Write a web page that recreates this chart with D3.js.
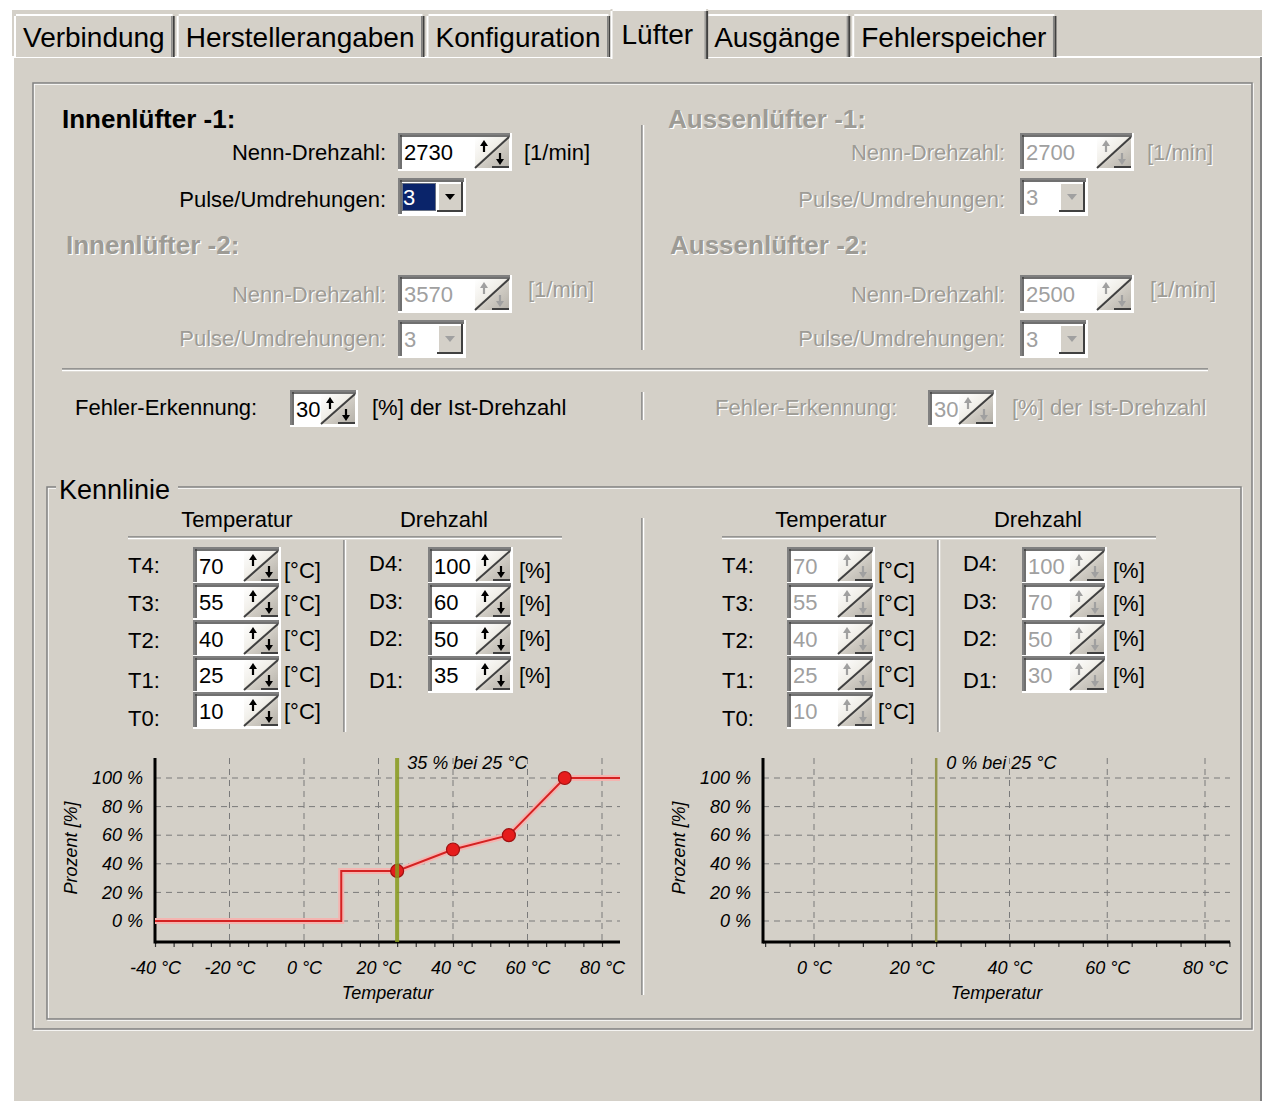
<!doctype html>
<html lang="de">
<head>
<meta charset="utf-8">
<script src="https://cdn.jsdelivr.net/npm/d3@7"></script>
<style>
  body { margin: 0; background: #fff; }
  svg { display: block; font-family: "Liberation Sans", Arial, sans-serif; }
</style>
</head>
<body>
<svg id="win" width="1268" height="1101"></svg>
<script>
// ---- data ----
const tabs = ["Verbindung", "Herstellerangaben", "Konfiguration", "Lüfter", "Ausgänge", "Fehlerspeicher"];
const selectedTab = 3;

const fanNames = ["Innenlüfter -1:", "Innenlüfter -2:", "Aussenlüfter -1:", "Aussenlüfter -2:"];
const fanRpm = [2730, 3570, 2700, 2500];
const fanPulses = [3, 3, 3, 3];
const fanEnabled = [true, false, false, false];
const errorDetect = [30, 30];

const tempLabels = ["T4:", "T3:", "T2:", "T1:", "T0:"];
const speedLabels = ["D4:", "D3:", "D2:", "D1:"];
const tempLeft = [70, 55, 40, 25, 10];
const speedLeft = [100, 60, 50, 35];
const tempRight = [70, 55, 40, 25, 10];
const speedRight = [100, 70, 50, 30];

const currentTemp = [25, 25];
const currentPct = [35, 0];

const xTicksLeft = [-40, -20, 0, 20, 40, 60, 80];
const xTicksRight = [0, 20, 40, 60, 80];
const yTicks = [0, 20, 40, 60, 80, 100];

// ---- helpers ----
const GREY = '#d4d0c8', DARK = '#808080', DARKER = '#404040', DIS = '#9d9b95';
const svg = d3.select('#win');

let line = (g, x1, y1, x2, y2, c, w = 1.5) => g.append('line')
    .attr('x1', x1).attr('y1', y1).attr('x2', x2).attr('y2', y2)
    .attr('stroke', c).attr('stroke-width', w)

let txt = (g, x, y, s, o = {}) => {
    let make = (dx, dy, fill) => g.append('text')
        .attr('x', x + dx).attr('y', y + dy)
        .attr('font-size', o.size || 22)
        .attr('font-weight', o.weight || 'normal')
        .attr('font-style', o.style || 'normal')
        .attr('text-anchor', o.anchor || 'start')
        .attr('fill', fill)
        .text(s)
    if (o.dis) { make(1.2, 1.2, '#ffffff'); return make(0, 0, DIS) }
    return make(0, 0, o.fill || '#000')
}

let etched = (g, x, y, w, h) => {
    g.append('rect').attr('x', x + 1).attr('y', y + 1).attr('width', w).attr('height', h)
        .attr('fill', 'none').attr('stroke', '#fff').attr('stroke-width', 1.5)
    g.append('rect').attr('x', x).attr('y', y).attr('width', w).attr('height', h)
        .attr('fill', 'none').attr('stroke', DARK).attr('stroke-width', 1.5)
}

let sunken = (g, x, y, w, h) => {
    g.append('rect').attr('x', x).attr('y', y).attr('width', w).attr('height', h).attr('fill', '#fff')
    line(g, x, y + 1, x + w, y + 1, DARK, 2)
    line(g, x + 1, y, x + 1, y + h, DARK, 2)
    line(g, x + 2, y + 3, x + w - 2, y + 3, DARKER, 1.5)
    line(g, x + 3, y + 2, x + 3, y + h - 2, DARKER, 1.5)
    line(g, x, y + h - 1, x + w, y + h - 1, '#fff', 2)
    line(g, x + w - 1, y, x + w - 1, y + h, '#fff', 2)
}

const defs = svg.append('defs')
let grad = defs.append('linearGradient').attr('id', 'btn').attr('x1', 0).attr('y1', 0).attr('x2', 1).attr('y2', 1)
grad.append('stop').attr('offset', '0%').attr('stop-color', '#ffffff')
grad.append('stop').attr('offset', '45%').attr('stop-color', '#f0eee8')
grad.append('stop').attr('offset', '55%').attr('stop-color', '#d0ccc4')
grad.append('stop').attr('offset', '100%').attr('stop-color', '#b4b0a8')

let spin = (g, x, y, w, h, val, dis) => {
    sunken(g, x, y, w, h)
    txt(g, x + 6, y + h / 2 + 8, val, { fill: dis ? '#a0a0a0' : '#000' })
    const bw = 34, bx = x + w - bw - 3, by = y + 4, bh = h - 7
    g.append('rect').attr('x', bx).attr('y', by).attr('width', bw).attr('height', bh).attr('fill', 'url(#btn)')
    line(g, bx, by + bh, bx + bw, by, DARKER, 2)
    line(g, bx + bw / 2, by + bh - 1, bx + bw, by + bh - 1, DARKER, 2)
    const ac = dis ? '#a0a0a0' : '#000'
    let ax = bx + 9, ay = by + 3
    line(g, ax, ay + 4, ax, ay + 12, ac, 2.2)
    g.append('path').attr('d', `M${ax - 4},${ay + 6}L${ax + 4},${ay + 6}L${ax},${ay}Z`).attr('fill', ac)
    ax = bx + bw - 9; ay = by + bh - 3
    line(g, ax, ay - 12, ax, ay - 4, ac, 2.2)
    g.append('path').attr('d', `M${ax - 4},${ay - 6}L${ax + 4},${ay - 6}L${ax},${ay}Z`).attr('fill', ac)
}

let combo = (g, x, y, w, h, val, dis) => {
    sunken(g, x, y, w, h)
    if (!dis) {
        g.append('rect').attr('x', x + 4).attr('y', y + 5).attr('width', 34).attr('height', h - 10).attr('fill', '#0a246a')
        g.append('rect').attr('x', x + 4.5).attr('y', y + 5.5).attr('width', 33).attr('height', h - 11)
            .attr('fill', 'none').attr('stroke', '#c8c0a0').attr('stroke-dasharray', '1,1')
        txt(g, x + 5, y + h / 2 + 8, val, { fill: '#fff' })
    } else {
        txt(g, x + 6, y + h / 2 + 8, val, { fill: '#a0a0a0' })
    }
    const bx = x + w - 29, by = y + 4, bw = 26, bh = h - 8
    g.append('rect').attr('x', bx).attr('y', by).attr('width', bw).attr('height', bh).attr('fill', GREY)
    line(g, bx, by + 1, bx + bw, by + 1, '#fff', 2)
    line(g, bx + 1, by, bx + 1, by + bh, '#fff', 2)
    line(g, bx, by + bh - 1, bx + bw, by + bh - 1, DARKER, 2)
    line(g, bx + bw - 1, by, bx + bw - 1, by + bh, DARKER, 2)
    const cx = bx + bw / 2, cy = by + bh / 2
    g.append('path').attr('d', `M${cx - 5},${cy - 3}L${cx + 5},${cy - 3}L${cx},${cy + 3}Z`)
        .attr('fill', dis ? '#a0a0a0' : '#000')
}

// ---- window + tabs ----
svg.append('rect').attr('x', 12).attr('y', 10).attr('width', 1250).attr('height', 1091).attr('fill', GREY)
line(svg, 12, 57, 1262, 57, '#fff', 2)
line(svg, 13, 57, 13, 1101, '#fff', 2)
line(svg, 1261, 57, 1261, 1101, DARK, 2)

const tabG = svg.append('g')
let tx = 14
let tabBoxes = []
tabs.forEach((name, i) => {
    const t = tabG.append('text').attr('font-size', 28).text(name)
    const tw = t.node().getComputedTextLength()
    t.remove()
    const sel = i === selectedTab
    tabBoxes.push({ name, sel, x: sel ? tx - 2 : tx, w: sel ? tw + 26 : tw + 19 })
    tx += tw + 19 + 2
})
tabBoxes.sort((a, b) => a.sel - b.sel).forEach(b => {
    const top = b.sel ? 9 : 14, bottom = b.sel ? 59 : 57
    tabG.append('rect').attr('x', b.x).attr('y', top).attr('width', b.w).attr('height', bottom - top).attr('fill', GREY)
    line(tabG, b.x + 1, top + 2, b.x + 1, bottom, '#fff', 2)
    line(tabG, b.x + 2, top + 1, b.x + b.w - 2, top + 1, '#fff', 2)
    line(tabG, b.x + b.w - 1, top + 2, b.x + b.w - 1, bottom, DARKER, 2)
    line(tabG, b.x + b.w - 3, top + 2, b.x + b.w - 3, bottom, DARK, 1)
    txt(tabG, b.x + (b.sel ? 11 : 9), b.sel ? 44 : 47, b.name, { size: 28 })
})

// ---- fan settings ----
const form = svg.append('g')
etched(form, 33, 83, 1219, 946)

const blocks = [
    { hx: 62, hy: 128, lx: 386, bx: 398, ux: 524, nY: 160, sY: 133, uY: 160, pY: 207, cY: 178 },
    { hx: 66, hy: 254, lx: 386, bx: 398, ux: 528, nY: 302, sY: 275, uY: 297, pY: 346, cY: 320 },
    { hx: 668, hy: 128, lx: 1005, bx: 1020, ux: 1147, nY: 160, sY: 133, uY: 160, pY: 207, cY: 178 },
    { hx: 670, hy: 254, lx: 1005, bx: 1020, ux: 1150, nY: 302, sY: 275, uY: 297, pY: 346, cY: 320 }
]
blocks.forEach((b, i) => {
    const dis = !fanEnabled[i]
    txt(form, b.hx, b.hy, fanNames[i], { size: 26, weight: 'bold', dis })
    txt(form, b.lx, b.nY, 'Nenn-Drehzahl:', { anchor: 'end', dis })
    spin(form, b.bx, b.sY, 114, 38, fanRpm[i], dis)
    txt(form, b.ux, b.uY, '[1/min]', { dis })
    txt(form, b.lx, b.pY, 'Pulse/Umdrehungen:', { anchor: 'end', dis })
    combo(form, b.bx, b.cY, 68, 38, fanPulses[i], dis)
})
line(form, 642, 125, 642, 350, DARK, 1.5); line(form, 643.5, 125, 643.5, 350, '#fff', 1.5)
line(form, 62, 369, 1208, 369, DARK, 1.5); line(form, 62, 370.5, 1208, 370.5, '#fff', 1.5)
line(form, 642, 392, 642, 420, DARK, 1.5); line(form, 643.5, 392, 643.5, 420, '#fff', 1.5)

txt(form, 75, 415, 'Fehler-Erkennung:')
spin(form, 290, 390, 68, 37, errorDetect[0], false)
txt(form, 372, 415, '[%] der Ist-Drehzahl')
txt(form, 715, 415, 'Fehler-Erkennung:', { dis: true })
spin(form, 928, 390, 68, 37, errorDetect[1], true)
txt(form, 1012, 415, '[%] der Ist-Drehzahl', { dis: true })

// ---- Kennlinie ----
const kl = svg.append('g')
etched(kl, 47, 487, 1194, 532)
kl.append('rect').attr('x', 56).attr('y', 478).attr('width', 122).attr('height', 16).attr('fill', GREY)
txt(kl, 59, 499, 'Kennlinie', { size: 27 })
line(kl, 642, 518, 642, 995, DARK, 1.5); line(kl, 643.5, 518, 643.5, 995, '#fff', 1.5)

const boxTops = [547, 583, 620, 656, 692]
const tBase = [573, 611, 648, 688, 726], tUnit = [578, 611, 646, 682, 719]
const dBase = [571, 609, 646, 688], dUnit = [578, 611, 646, 683]

let table = (ox, temps, speeds) => {
    const g = kl.append('g').attr('transform', `translate(${ox},0)`)
    txt(g, 237, 527, 'Temperatur', { anchor: 'middle' })
    txt(g, 444, 527, 'Drehzahl', { anchor: 'middle' })
    line(g, 128, 537, 562, 537, DARK, 1.5); line(g, 128, 538.5, 562, 538.5, '#fff', 1.5)
    line(g, 344, 540, 344, 732, DARK, 1.5); line(g, 345.5, 540, 345.5, 732, '#fff', 1.5)
    const dis = ox > 0
    temps.forEach((t, i) => {
        txt(g, 128, tBase[i], tempLabels[i])
        spin(g, 193, boxTops[i], 88, 37, t, dis)
        txt(g, 284, tUnit[i], '[°C]')
    })
    speeds.forEach((d, i) => {
        txt(g, 369, dBase[i], speedLabels[i])
        spin(g, 428, boxTops[i], 85, 37, d, dis)
        txt(g, 519, dUnit[i], '[%]')
    })
}
table(0, tempLeft, speedLeft)
table(594, tempRight, speedRight)

// ---- characteristic charts ----
const chartTop = 758, chartBase = 942

let chart = (o) => {
    const g = svg.append('g').attr('font-style', 'italic')
    const x = d3.scaleLinear().domain(o.xDomain).range(o.xRange)
    const y = d3.scaleLinear().domain([0, 100]).range([921, 778])

    g.selectAll('.hg').data(yTicks).join('line')
        .attr('x1', o.axisStart).attr('x2', o.axisEnd)
        .attr('y1', d => y(d)).attr('y2', d => y(d))
        .attr('stroke', '#7a7a7a').attr('stroke-width', 1).attr('stroke-dasharray', '6,5')
    g.selectAll('.vg').data(o.ticks.filter(d => x(d) > o.axisStart + 3)).join('line')
        .attr('x1', d => x(d)).attr('x2', d => x(d))
        .attr('y1', chartTop).attr('y2', chartBase)
        .attr('stroke', '#7a7a7a').attr('stroke-width', 1).attr('stroke-dasharray', '6,5')

    const minor = d3.range(Math.ceil(x.invert(o.axisStart) / 5) * 5, x.invert(o.axisEnd) + 0.01, 5)
    const axMinor = g.append('g').attr('transform', `translate(0,${chartBase})`)
        .call(d3.axisBottom(x).tickValues(minor).tickFormat('').tickSize(5))
    axMinor.select('.domain').remove()
    axMinor.selectAll('line').attr('stroke', '#333').attr('stroke-width', 1.2)

    const ax = g.append('g').attr('transform', `translate(0,${chartBase})`)
        .call(d3.axisBottom(x).tickValues(o.ticks).tickFormat(d => d + ' °C').tickSize(0).tickPadding(19))
    ax.select('.domain').remove()
    ax.attr('font-size', 18).attr('font-family', null)
    ax.selectAll('text').attr('fill', '#000')

    const ay = g.append('g').attr('transform', `translate(${o.axisStart},0)`)
        .call(d3.axisLeft(y).tickValues(yTicks).tickFormat(d => d + ' %').tickSize(0).tickPadding(12))
    ay.select('.domain').remove()
    ay.attr('font-size', 18).attr('font-family', null)
    ay.selectAll('text').attr('fill', '#000')

    line(g, o.axisStart, chartTop, o.axisStart, chartBase + 1.5, '#000', 3)
    line(g, o.axisStart, chartBase, o.axisEnd, chartBase, '#000', 3)

    g.append('text').attr('font-size', 18).attr('text-anchor', 'middle')
        .attr('transform', `translate(${o.axisStart - 78},848) rotate(-90)`).text('Prozent [%]')
    g.append('text').attr('font-size', 18).attr('text-anchor', 'middle')
        .attr('x', (o.axisStart + o.axisEnd) / 2).attr('y', 999).text('Temperatur')

    if (o.temps) {
        const T = o.temps.slice().reverse(), D = o.speeds.slice().reverse()
        const pts = [[x.invert(o.axisStart), 0], [T[0], 0], [T[0], D[0]]]
        const marks = []
        for (let i = 1; i < T.length; i++) { pts.push([T[i], D[i - 1]]); marks.push([T[i], D[i - 1]]) }
        pts.push([x.invert(o.axisEnd), D[D.length - 1]])
        const path = d3.line().x(d => x(d[0])).y(d => y(d[1]))
        g.append('path').attr('d', path(pts)).attr('fill', 'none').attr('stroke', '#f4b4b0').attr('stroke-width', 6)
        g.append('path').attr('d', path(pts)).attr('fill', 'none').attr('stroke', '#d42222').attr('stroke-width', 2)
        g.selectAll('.mk').data(marks).join('circle')
            .attr('cx', d => x(d[0])).attr('cy', d => y(d[1])).attr('r', 6.5)
            .attr('fill', '#e61c1c').attr('stroke', '#a01010').attr('stroke-width', 1.2)
    }

    line(g, x(o.cur), chartTop, x(o.cur), chartBase, o.curColor, o.curWidth).attr('opacity', 0.85)
    g.append('text').attr('font-size', 18).attr('x', x(o.cur) + 10).attr('y', 769)
        .text(`${o.pct} % bei ${o.cur} °C`)
}

chart({ xDomain: [-40, 80], xRange: [155, 602], axisStart: 155, axisEnd: 620, ticks: xTicksLeft,
        temps: tempLeft, speeds: speedLeft, cur: currentTemp[0], pct: currentPct[0], curColor: '#879a1c', curWidth: 4 })
chart({ xDomain: [0, 80], xRange: [814, 1205], axisStart: 763, axisEnd: 1230, ticks: xTicksRight,
        cur: currentTemp[1], pct: currentPct[1], curColor: '#8a8c38', curWidth: 2.5 })
</script>
</body>
</html>
